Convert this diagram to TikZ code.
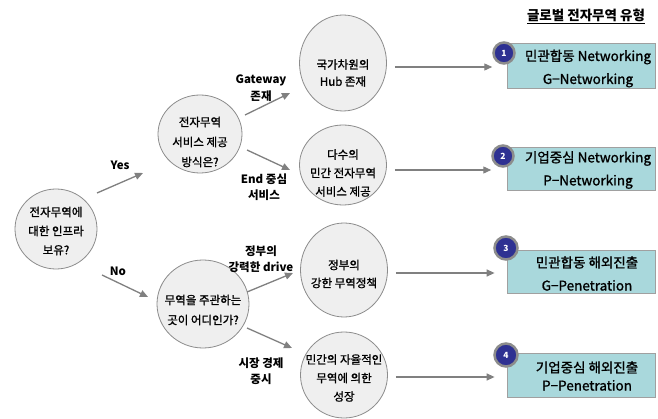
\documentclass[tikz,border=0pt]{standalone}
\usepackage{fontspec}
\setmainfont{Noto Sans CJK KR}
\newfontfamily\mfont[FakeBold=1.2]{Noto Sans CJK KR}
\usetikzlibrary{arrows.meta,shapes.geometric,calc}
\definecolor{cfill}{HTML}{EFEFEF}
\definecolor{cline}{HTML}{8C8C8C}
\definecolor{bfill}{HTML}{A9D8DC}
\definecolor{bline}{HTML}{A0A0A0}
\definecolor{bdg}{HTML}{2E3192}
\definecolor{arrc}{HTML}{808080}
\begin{document}
\begin{tikzpicture}[x=1pt,y=-1pt,
  qnode/.style={ellipse,draw=cline,line width=0.8pt,fill=cfill,inner sep=0pt},
  qtext/.style={align=center,font=\fontsize{11.5}{19}\mfont},
  lbl/.style={align=center,font=\fontsize{11.5}{16.5}\selectfont\bfseries},
  arr/.style={draw=arrc,line width=1.3pt,-{Triangle[length=8pt,width=7pt]}},
  tbox/.style={draw=bline,fill=bfill,line width=0.8pt,minimum width=148pt,inner sep=0pt},
  btext/.style={align=center,font=\fontsize{13.5}{23}\mfont},
  badge/.style={circle,fill=bdg,draw=cline,line width=2.5pt,minimum size=21pt,inner sep=0pt,
    text=white,font=\fontsize{8.5}{8.5}\selectfont\bfseries\itshape}
]
\useasboundingbox[fill=white] (0,0) rectangle (658,419);

% question circles
\node[qnode,minimum width=82pt,minimum height=80pt] (root) at (56,229) {};
\node[qtext,font=\fontsize{11.5}{19}\mfont] (roott) at (56,231) {전자무역에\\대한 인프라\\보유?};
\node[qnode,minimum width=84pt,minimum height=78pt] (q1) at (200,134) {};
\node[qtext,font=\fontsize{11.5}{20}\mfont] (q1t) at (200,142) {전자무역\\서비스 제공\\방식은?};
\node[qnode,minimum width=92pt,minimum height=88pt] (q2) at (203,304) {};
\node[qtext,font=\fontsize{11.5}{20}\mfont] (q2t) at (203,310) {무역을 주관하는\\곳이 어디인가?};

% answer circles
\node[qnode,minimum width=87pt,minimum height=96pt] (c1) at (343,63) {};
\node[qtext,font=\fontsize{11.5}{17}\mfont] (c1t) at (343,73) {국가차원의\\Hub 존재};
\node[qnode,minimum width=87pt,minimum height=80pt] (c2) at (343,165) {};
\node[qtext,font=\fontsize{11.5}{18.5}\mfont] (c2t) at (343,173) {다수의\\민간 전자무역\\서비스 제공};
\node[qnode,minimum width=87pt,minimum height=94pt] (c3) at (344,270) {};
\node[qtext,font=\fontsize{11.5}{18}\mfont] (c3t) at (344,274) {정부의\\강한 무역정책};
\node[qnode,minimum width=87pt,minimum height=86pt] (c4) at (344,375) {};
\node[qtext,font=\fontsize{11.5}{18.5}\mfont] (c4t) at (344,378) {민간의 자율적인\\무역에 의한\\성장};

% branch labels
\node[lbl] (lyes) at (120,165) {Yes};
\node[lbl] (lno) at (118,271) {No};
\node[lbl] (lgw) at (261,88) {Gateway\\존재};
\node[lbl] (lend) at (264,187) {End 중심\\서비스};
\node[lbl] (lgov) at (261,259) {정부의\\강력한 drive};
\node[lbl] (lmkt) at (261,371) {시장 경제\\중시};

% diagonal arrows
\draw[arr] ([shift={(41,-36)}]root.center) -- ([shift={(-57,39)}]q1.center);
\draw[arr] ([shift={(46,46)}]root.center) -- ([shift={(-55,-7)}]q2.center);
\draw[arr] ([shift={(45,-19)}]q1.center) -- ([shift={(-53,30)}]c1.center);
\draw[arr] ([shift={(47,16)}]q1.center) -- ([shift={(-53,5)}]c2.center);
\draw[arr] ([shift={(44,-12)}]q2.center) -- ([shift={(-51,3)}]c3.center);
\draw[arr] ([shift={(44,24)}]q2.center) -- ([shift={(-52,-27)}]c4.center);

% title
\node[font=\fontsize{13.5}{13.5}\selectfont\bfseries] (title) at (586,16) {\underline{글로벌 전자무역 유형}};

% result boxes
\node[tbox,minimum height=45pt] (b1) at (581,65.5) {};
\node[btext] (b1t) at (588,68.5) {민관합동 Networking\\G−Networking};
\node[tbox,minimum height=43pt] (b2) at (581,168.5) {};
\node[btext] (b2t) at (588,170) {기업중심 Networking\\P−Networking};
\node[tbox,minimum height=43pt] (b3) at (581,271.5) {};
\node[btext] (b3t) at (587,273.5) {민관합동 해외진출\\G−Penetration};
\node[tbox,minimum height=44pt] (b4) at (581,375) {};
\node[btext,font=\fontsize{13.5}{18}\mfont] (b4t) at (587,376) {기업중심 해외진출\\P−Penetration};

% badges
\node[badge] (g1) at (504,53) {1};
\node[badge] (g2) at (503,156) {2};
\node[badge,minimum size=23pt] (g3) at (506,248) {3};
\node[badge,minimum size=23pt] (g4) at (506,355) {4};

% arrows to boxes
\coordinate (s1) at ([shift={(8,4)}]c1.east);
\coordinate (s2) at ([shift={(8,5)}]c2.east);
\coordinate (s3) at ([shift={(8,3)}]c3.east);
\coordinate (s4) at ([shift={(8,2)}]c4.east);
\draw[arr] (s1) -- (s1 -| g1.west);
\draw[arr] (s2) -- (s2 -| g2.west);
\draw[arr] (s3) -- ([xshift=-12pt]s3 -| b3.west);
\draw[arr] (s4) -- ([xshift=-12pt]s4 -| b4.west);
\end{tikzpicture}
\end{document}
